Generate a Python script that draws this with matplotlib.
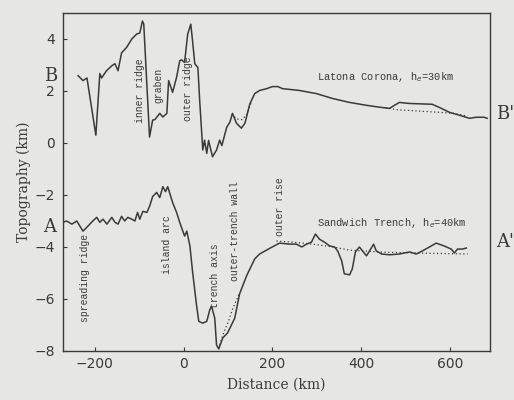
import numpy as np
import matplotlib
matplotlib.use('Agg')
import matplotlib.pyplot as plt

# Latona Corona profile (B - B')
latona_x = [-238, -227, -218, -198, -189, -185, -174, -162, -155, -148, -140, -129, -117,
            -106, -99, -93, -90, -77, -70, -65, -54, -47, -38, -34, -25, -16, -9, -5, 2,
            9, 16, 20, 25, 32, 36, 43, 47, 52, 56, 65, 74, 81, 86, 97, 104, 110, 119,
            130, 138, 149, 160, 171, 187, 200, 212, 223, 261, 299, 336, 374, 412, 440,
            464, 475, 486, 509, 560, 576, 599, 621, 644, 659, 677, 684]
latona_y = [2.59, 2.4, 2.5, 0.3, 2.67, 2.5, 2.78, 2.97, 3.05, 2.78, 3.47, 3.67, 4.0,
            4.19, 4.23, 4.69, 4.57, 0.23, 0.88, 0.9, 1.14, 1.0, 1.14, 2.4, 1.95, 2.53,
            3.16, 3.2, 3.1, 4.19, 4.57, 3.92, 3.05, 2.9, 1.64, -0.27, 0.11, -0.4, 0.1,
            -0.53, -0.27, 0.11, -0.1, 0.61, 0.8, 1.14, 0.76, 0.57, 0.76, 1.5, 1.9, 2.02,
            2.09, 2.17, 2.17, 2.09, 2.02, 1.9, 1.71, 1.56, 1.45, 1.38, 1.33, 1.45, 1.56,
            1.52, 1.49, 1.37, 1.18, 1.07, 0.95, 0.99, 0.99, 0.95]
latona_fit1_x = [108, 120, 132, 142, 152]
latona_fit1_y = [1.1, 0.92, 0.9, 1.1, 1.55]
latona_fit2_x = [455, 480, 520, 576, 610, 640]
latona_fit2_y = [1.36, 1.28, 1.24, 1.18, 1.14, 1.03]

# Sandwich Trench profile (A - A')
sandwich_x = [-272, -264, -252, -241, -227, -216, -205, -196, -189, -182, -173, -162,
              -155, -148, -140, -133, -126, -117, -110, -104, -99, -92, -83, -77, -70,
              -61, -54, -47, -41, -36, -32, -25, -16, -9, -2, 2, 7, 14, 20, 29, 34, 43,
              52, 59, 63, 70, 74, 79, 88, 99, 115, 126, 142, 160, 171, 194, 216, 239,
              254, 266, 277, 288, 297, 306, 317, 329, 340, 347, 356, 362, 374, 380, 387,
              396, 403, 412, 419, 428, 434, 446, 464, 486, 509, 524, 538, 558, 569, 587,
              603, 610, 617, 628, 637]
sandwich_y = [-3.05, -3.0, -3.12, -3.0, -3.39, -3.2, -3.0, -2.86, -3.05, -2.93, -3.12,
              -2.86, -3.05, -3.12, -2.82, -3.0, -2.86, -2.93, -3.0, -2.67, -2.93, -2.63,
              -2.67, -2.44, -2.06, -1.9, -2.1, -1.68, -1.87, -1.68, -1.9, -2.29, -2.67,
              -3.05, -3.39, -3.58, -3.39, -3.96, -4.95, -6.25, -6.86, -6.93, -6.86,
              -6.4, -6.29, -6.74, -7.77, -7.92, -7.5, -7.3, -6.74, -5.8, -5.1, -4.46,
              -4.27, -4.05, -3.85, -3.89, -3.89, -4.0, -3.89, -3.81, -3.5, -3.7, -3.81,
              -3.96, -4.0, -4.15, -4.53, -5.03, -5.07, -4.84, -4.19, -4.0, -4.15, -4.34,
              -4.15, -3.89, -4.15, -4.27, -4.3, -4.27, -4.19, -4.27, -4.15, -3.96, -3.85,
              -3.96, -4.08, -4.23, -4.08, -4.08, -4.04]
sandwich_fit1_x = [78, 90, 100, 110, 125]
sandwich_fit1_y = [-7.9, -7.3, -6.9, -6.4, -5.8]
sandwich_fit2_x = [209, 250, 290, 330, 374, 450, 550, 640]
sandwich_fit2_y = [-3.77, -3.82, -3.89, -3.98, -4.12, -4.2, -4.24, -4.27]

features = ['inner ridge', 'graben', 'outer ridge', 'spreading ridge', 'island arc',
            'trench axis', 'outer-trench wall', 'outer rise']
feature_x = [-99, -56, 9, -223, -38, 70, 115, 216]
feature_y = [2.0, 2.2, 2.1, -5.2, -3.9, -5.1, -3.4, -2.45]

bg = '#e6e6e4'
ink = '#3a3a3a'

fig = plt.figure(figsize=(5.14, 4.0), dpi=100, facecolor=bg)
ax = fig.add_axes([0.1226, 0.1225, 0.8304, 0.845], facecolor=bg)

ax.plot(latona_x, latona_y, color=ink, lw=1.1)
ax.plot(sandwich_x, sandwich_y, color=ink, lw=1.1)
for fx, fy in [(latona_fit1_x, latona_fit1_y), (latona_fit2_x, latona_fit2_y),
               (sandwich_fit1_x, sandwich_fit1_y), (sandwich_fit2_x, sandwich_fit2_y)]:
    ax.plot(fx, fy, color=ink, lw=0.9, ls=(0, (1, 2)))

for name, x, y in zip(features, feature_x, feature_y):
    ax.text(x, y, name, rotation=90, ha='center', va='center', fontsize=7,
            family='Liberation Mono', color=ink)

ax.text(300, 2.25, 'Latona Corona, h$_e$=30km', fontsize=7.5, family='Liberation Mono',
        color=ink, va='bottom')
ax.text(300, -3.35, 'Sandwich Trench, h$_e$=40km', fontsize=7.5, family='Liberation Mono',
        color=ink, va='bottom')

ax.set_xlim(-272, 690)
ax.set_ylim(-8, 5)
ax.set_xticks([-200, 0, 200, 400, 600])
ax.set_yticks([-8, -6, -4, -2, 0, 2, 4])
ax.set_yticklabels(['\u22128', '\u22126', '\u22124', '\u22122', '0', '2', '4'])
ax.set_xticklabels(['\u2212200', '0', '200', '400', '600'])
ax.tick_params(direction='in', length=3, width=0.8, colors=ink, labelsize=10,
               labelcolor=ink, pad=6)
ax.tick_params(axis='x', pad=4)
for s in ax.spines.values():
    s.set_color(ink)
    s.set_linewidth(1.0)

ax.set_xlabel('Distance (km)', family='DejaVu Serif', fontsize=10, color=ink, labelpad=5)
ax.set_ylabel('Topography (km)', family='DejaVu Serif', fontsize=10, color=ink, labelpad=2)

fig.text(51 / 514, 1 - 76 / 400, 'B', fontsize=13, family='DejaVu Serif', color=ink,
         ha='center', va='center')
fig.text(50 / 514, 1 - 227 / 400, 'A', fontsize=13, family='DejaVu Serif', color=ink,
         ha='center', va='center')
fig.text(496 / 514, 1 - 114 / 400, "B'", fontsize=13, family='DejaVu Serif', color=ink,
         ha='left', va='center')
fig.text(496 / 514, 1 - 242 / 400, "A'", fontsize=13, family='DejaVu Serif', color=ink,
         ha='left', va='center')

fig.savefig('out.png', dpi=100, facecolor=bg)
